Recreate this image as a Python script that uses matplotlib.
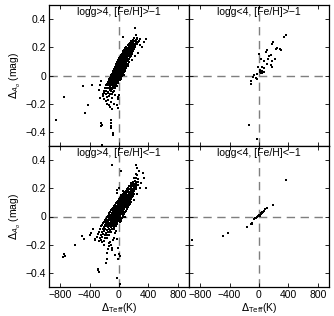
import matplotlib
matplotlib.use("Agg")
import matplotlib.pyplot as plt

plt.rcParams['font.family'] = ['Liberation Sans', 'DejaVu Sans']

# (dTeff [K], dA0 [mag]) pairs, one list per panel
TL_POINTS = [
    (-215, -0.147), (-168, -0.152), (-131, -0.146),
    (-205, -0.127), (-176, -0.132), (-148, -0.126), (-119, -0.134), (-97, -0.129),
    (-198, -0.113), (-170, -0.108), (-151, -0.114), (-128, -0.106), (-109, -0.111), (-88, -0.115), (-72, -0.108),
    (-186, -0.087), (-157, -0.092), (-139, -0.086), (-121, -0.094), (-104, -0.089), (-90, -0.093), (-77, -0.088), (-58, -0.091),
    (-172, -0.065), (-149, -0.070), (-128, -0.075), (-113, -0.068), (-99, -0.067), (-86, -0.072), (-71, -0.066), (-59, -0.074), (-44, -0.069), (-28, -0.073),
    (-158, -0.063), (-137, -0.058), (-119, -0.062), (-104, -0.056), (-92, -0.061), (-79, -0.065), (-66, -0.058), (-52, -0.062), (-37, -0.057),
    (-150, -0.047), (-127, -0.052), (-111, -0.046), (-96, -0.054), (-84, -0.049), (-71, -0.053), (-60, -0.048), (-47, -0.051), (-33, -0.045), (-18, -0.050),
    (-139, -0.037), (-117, -0.042), (-101, -0.036), (-89, -0.044), (-76, -0.039), (-64, -0.043), (-52, -0.038), (-40, -0.041), (-27, -0.035), (-11, -0.040),
    (-131, -0.027), (-109, -0.032), (-93, -0.026), (-80, -0.034), (-67, -0.029), (-55, -0.033), (-44, -0.028), (-31, -0.031), (-19, -0.025), (-3, -0.030), (14, -0.035),
    (-120, -0.017), (-99, -0.022), (-84, -0.016), (-71, -0.024), (-59, -0.019), (-47, -0.023), (-35, -0.018), (-23, -0.021), (-10, -0.015), (5, -0.020), (21, -0.025),
    (-112, -0.007), (-90, -0.012), (-75, -0.006), (-62, -0.014), (-50, -0.009), (-38, -0.013), (-27, -0.008), (-15, -0.011), (-2, -0.005), (12, -0.010), (30, -0.015),
    (-104, 0.003), (-83, -0.002), (-66, 0.004), (-53, -0.004), (-41, 0.001), (-30, -0.003), (-19, 0.002), (-7, -0.001), (5, 0.005), (19, 0.000), (38, -0.005), (62, 0.002),
    (-93, 0.013), (-74, 0.008), (-58, 0.014), (-45, 0.006), (-33, 0.011), (-22, 0.007), (-11, 0.012), (1, 0.009), (13, 0.015), (27, 0.010), (46, 0.005),
    (-86, 0.023), (-66, 0.018), (-50, 0.024), (-37, 0.016), (-25, 0.021), (-14, 0.017), (-3, 0.022), (9, 0.019), (22, 0.025), (36, 0.020), (55, 0.015),
    (-77, 0.033), (-58, 0.028), (-42, 0.034), (-29, 0.026), (-17, 0.031), (-6, 0.027), (5, 0.032), (17, 0.029), (30, 0.035), (45, 0.030), (64, 0.025),
    (-69, 0.043), (-49, 0.038), (-34, 0.044), (-21, 0.036), (-9, 0.041), (2, 0.037), (13, 0.042), (25, 0.039), (38, 0.045), (53, 0.040), (73, 0.035),
    (-60, 0.053), (-41, 0.048), (-26, 0.054), (-13, 0.046), (-1, 0.051), (10, 0.047), (21, 0.052), (33, 0.049), (47, 0.055), (62, 0.050), (82, 0.045),
    (-52, 0.063), (-33, 0.058), (-18, 0.064), (-5, 0.056), (7, 0.061), (18, 0.057), (29, 0.062), (41, 0.059), (55, 0.065), (71, 0.060), (91, 0.055),
    (-44, 0.073), (-25, 0.068), (-10, 0.074), (3, 0.066), (15, 0.071), (26, 0.067), (38, 0.072), (50, 0.069), (64, 0.075), (80, 0.070), (99, 0.065),
    (-35, 0.083), (-16, 0.078), (-1, 0.084), (12, 0.076), (24, 0.081), (35, 0.077), (47, 0.082), (59, 0.079), (73, 0.085), (89, 0.080), (110, 0.075),
    (-27, 0.093), (-8, 0.088), (7, 0.094), (20, 0.086), (32, 0.091), (44, 0.087), (56, 0.092), (68, 0.089), (82, 0.095), (98, 0.090), (120, 0.085),
    (-18, 0.103), (1, 0.098), (16, 0.104), (29, 0.096), (41, 0.101), (53, 0.097), (65, 0.102), (77, 0.099), (91, 0.105), (108, 0.100), (131, 0.095),
    (-8, 0.113), (11, 0.108), (26, 0.114), (39, 0.106), (51, 0.111), (63, 0.107), (75, 0.112), (88, 0.109), (102, 0.115), (119, 0.110),
    (2, 0.123), (21, 0.118), (36, 0.124), (49, 0.116), (61, 0.121), (73, 0.117), (86, 0.122), (99, 0.119), (113, 0.125), (131, 0.120),
    (13, 0.133), (32, 0.128), (47, 0.134), (60, 0.126), (72, 0.131), (85, 0.127), (98, 0.132), (111, 0.129), (126, 0.135), (145, 0.130),
    (24, 0.143), (43, 0.138), (58, 0.144), (71, 0.136), (84, 0.141), (97, 0.137), (110, 0.142), (124, 0.139), (140, 0.145), (160, 0.140),
    (36, 0.153), (55, 0.148), (70, 0.154), (83, 0.146), (96, 0.151), (109, 0.147), (123, 0.152), (138, 0.149), (155, 0.155), (176, 0.150),
    (48, 0.163), (67, 0.158), (82, 0.164), (96, 0.156), (109, 0.161), (123, 0.157), (137, 0.162), (152, 0.159), (170, 0.165),
    (61, 0.173), (80, 0.168), (95, 0.174), (109, 0.166), (123, 0.171), (137, 0.167), (151, 0.172), (167, 0.169), (186, 0.175),
    (74, 0.183), (93, 0.178), (109, 0.184), (123, 0.176), (137, 0.181), (151, 0.177), (166, 0.182), (183, 0.179), (204, 0.185),
    (88, 0.193), (107, 0.188), (123, 0.194), (138, 0.186), (152, 0.191), (167, 0.187), (183, 0.192), (201, 0.189),
    (101, 0.203), (121, 0.198), (137, 0.204), (152, 0.196), (167, 0.201), (183, 0.197), (200, 0.202), (221, 0.199),
    (116, 0.213), (136, 0.208), (152, 0.214), (168, 0.206), (184, 0.211), (201, 0.207), (220, 0.212),
    (131, 0.223), (151, 0.218), (168, 0.224), (185, 0.216), (202, 0.221), (221, 0.217), (243, 0.222),
    (148, 0.233), (168, 0.228), (186, 0.234), (204, 0.226), (224, 0.231), (249, 0.227),
    (165, 0.243), (186, 0.238), (206, 0.244), (228, 0.236), (256, 0.241),
    (184, 0.253), (207, 0.248), (232, 0.254), (265, 0.246),
    (205, 0.263), (238, 0.258), (280, 0.262),
    (217, 0.334), (54, 0.27), (235, 0.287), (249, 0.263), (371, 0.256), (339, 0.235),
    (290, 0.215), (310, 0.2), (260, 0.16), (220, 0.14), (170, 0.11), (120, 0.07), (80, 0.03),
    (-484, -0.076), (-371, -0.069), (-746, -0.156), (-850, -0.318), (-461, -0.263), (-416, -0.206),
    (-249, -0.04), (-262, -0.069), (-271, -0.104), (-262, -0.16), (-220, -0.13), (-200, -0.165),
    (-180, -0.18), (-160, -0.2), (-140, -0.21), (-120, -0.225), (-100, -0.24), (-150, -0.175),
    (-110, -0.19), (-90, -0.16), (-249, -0.334), (-235, -0.348), (-240, -0.36), (-113, -0.318),
    (-110, -0.34), (-108, -0.355), (-105, -0.37), (-81, -0.41), (-78, -0.42), (-226, -0.49),
    (-23, -0.206), (-20, -0.23), (-10, -0.15), (0, -0.135), (-15, -0.17), (-60, -0.14), (-70, -0.2),
]

TR_POINTS = [
    (362, 0.29), (339, 0.275), (194, 0.24), (181, 0.22), (280, 0.19), (235, 0.185),
    (113, 0.18), (90, 0.17), (158, 0.145), (140, 0.14), (217, 0.12), (181, 0.10),
    (68, 0.10), (104, 0.085), (0, 0.155), (23, 0.12), (45, 0.06), (158, 0.073),
    (172, 0.06), (-9, 0.06), (9, 0.04), (45, 0.03), (68, 0.026), (27, 0.019),
    (-23, 0.014), (-68, 0.002), (-77, -0.01), (-45, -0.017), (-23, -0.026),
    (-113, -0.04), (-113, -0.06), (-131, -0.353), (-23, -0.45), (249, 0.197),
    (294, 0.18), (122, 0.12), (68, 0.05), (30, 0.03), (15, 0.025), (40, 0.02),
]

BL_POINTS = [
    (-320, -0.167), (-275, -0.172), (-240, -0.166), (-205, -0.174),
    (-305, -0.147), (-262, -0.152), (-228, -0.146), (-196, -0.154), (-168, -0.149),
    (-290, -0.127), (-250, -0.132), (-218, -0.126), (-190, -0.134), (-163, -0.129), (-137, -0.133),
    (-276, -0.107), (-236, -0.112), (-205, -0.106), (-178, -0.114), (-153, -0.109), (-129, -0.113), (-104, -0.108),
    (-262, -0.087), (-222, -0.092), (-192, -0.086), (-166, -0.094), (-142, -0.089), (-119, -0.093), (-96, -0.088), (-70, -0.091),
    (-248, -0.067), (-208, -0.072), (-180, -0.066), (-155, -0.074), (-132, -0.069), (-110, -0.073), (-88, -0.068), (-64, -0.071), (-38, -0.065),
    (-231, -0.057), (-194, -0.062), (-168, -0.056), (-144, -0.064), (-122, -0.059), (-101, -0.063), (-80, -0.058), (-57, -0.061), (-31, -0.055),
    (-220, -0.047), (-183, -0.052), (-157, -0.046), (-134, -0.054), (-113, -0.049), (-92, -0.053), (-71, -0.048), (-49, -0.051), (-22, -0.045),
    (-206, -0.037), (-170, -0.042), (-146, -0.036), (-124, -0.044), (-103, -0.039), (-83, -0.043), (-62, -0.038), (-40, -0.041), (-14, -0.035), (15, -0.040),
    (-194, -0.027), (-160, -0.032), (-136, -0.026), (-114, -0.034), (-94, -0.029), (-74, -0.033), (-53, -0.028), (-31, -0.031), (-5, -0.025), (24, -0.030),
    (-181, -0.017), (-148, -0.022), (-125, -0.016), (-104, -0.024), (-84, -0.019), (-64, -0.023), (-44, -0.018), (-22, -0.021), (3, -0.015), (33, -0.020),
    (-168, -0.007), (-136, -0.012), (-114, -0.006), (-94, -0.014), (-74, -0.009), (-55, -0.013), (-35, -0.008), (-13, -0.011), (12, -0.005), (42, -0.010),
    (-156, 0.003), (-124, -0.002), (-103, 0.004), (-83, -0.004), (-64, 0.001), (-45, -0.003), (-26, 0.002), (-4, -0.001), (20, 0.005), (50, 0.000), (85, -0.004),
    (-142, 0.013), (-112, 0.008), (-92, 0.014), (-73, 0.006), (-54, 0.011), (-35, 0.007), (-16, 0.012), (5, 0.009), (29, 0.015), (60, 0.010),
    (-130, 0.023), (-101, 0.018), (-81, 0.024), (-62, 0.016), (-44, 0.021), (-25, 0.017), (-6, 0.022), (15, 0.019), (39, 0.025), (70, 0.020),
    (-117, 0.033), (-89, 0.028), (-70, 0.034), (-52, 0.026), (-34, 0.031), (-15, 0.027), (4, 0.032), (25, 0.029), (49, 0.035), (80, 0.030),
    (-104, 0.043), (-77, 0.038), (-58, 0.044), (-41, 0.036), (-23, 0.041), (-5, 0.037), (14, 0.042), (35, 0.039), (59, 0.045), (90, 0.040),
    (-92, 0.053), (-65, 0.048), (-47, 0.054), (-30, 0.046), (-12, 0.051), (6, 0.047), (25, 0.052), (46, 0.049), (70, 0.055), (102, 0.050),
    (-79, 0.063), (-53, 0.058), (-36, 0.064), (-19, 0.056), (-1, 0.061), (17, 0.057), (36, 0.062), (57, 0.059), (81, 0.065), (114, 0.060),
    (-66, 0.073), (-41, 0.068), (-24, 0.074), (-7, 0.066), (10, 0.071), (28, 0.067), (47, 0.072), (68, 0.069), (92, 0.075), (126, 0.070),
    (-53, 0.083), (-29, 0.078), (-12, 0.084), (5, 0.076), (22, 0.081), (40, 0.077), (59, 0.082), (80, 0.079), (105, 0.085), (140, 0.080),
    (-40, 0.093), (-17, 0.088), (0, 0.094), (17, 0.086), (34, 0.091), (52, 0.087), (71, 0.092), (92, 0.089), (118, 0.095), (152, 0.090),
    (-27, 0.103), (-5, 0.098), (12, 0.104), (29, 0.096), (46, 0.101), (64, 0.097), (83, 0.102), (105, 0.099), (131, 0.105), (166, 0.100),
    (-13, 0.113), (8, 0.108), (25, 0.114), (42, 0.106), (59, 0.111), (77, 0.107), (96, 0.112), (118, 0.109), (145, 0.115),
    (0, 0.123), (21, 0.118), (38, 0.124), (55, 0.116), (72, 0.121), (90, 0.117), (110, 0.122), (132, 0.119), (160, 0.125),
    (14, 0.133), (35, 0.128), (52, 0.134), (69, 0.126), (86, 0.131), (104, 0.127), (124, 0.132), (147, 0.129), (176, 0.135),
    (28, 0.143), (49, 0.138), (66, 0.144), (83, 0.136), (100, 0.141), (118, 0.137), (139, 0.142), (163, 0.139), (193, 0.145),
    (43, 0.153), (64, 0.148), (81, 0.154), (98, 0.146), (115, 0.151), (133, 0.147), (154, 0.152), (179, 0.149),
    (58, 0.163), (79, 0.158), (96, 0.164), (113, 0.156), (131, 0.161), (150, 0.157), (171, 0.162), (197, 0.159),
    (73, 0.173), (94, 0.168), (112, 0.174), (129, 0.166), (147, 0.171), (167, 0.167), (189, 0.172),
    (89, 0.183), (110, 0.178), (128, 0.184), (146, 0.176), (165, 0.181), (186, 0.177), (210, 0.182),
    (105, 0.193), (127, 0.188), (145, 0.194), (164, 0.186), (184, 0.191), (207, 0.187),
    (122, 0.203), (144, 0.198), (163, 0.204), (183, 0.196), (205, 0.201), (231, 0.197),
    (139, 0.213), (162, 0.208), (182, 0.214), (203, 0.206), (228, 0.211),
    (157, 0.223), (181, 0.218), (203, 0.224), (227, 0.216),
    (176, 0.233), (201, 0.228), (226, 0.234), (255, 0.226),
    (196, 0.243), (224, 0.238), (252, 0.244),
    (218, 0.253), (250, 0.248), (228, 0.273), (262, 0.268), (245, 0.293),
    (-99, 0.363), (23, 0.322), (235, 0.363), (249, 0.346), (271, 0.322), (225, 0.3),
    (203, 0.275), (339, 0.275), (362, 0.204), (158, 0.24), (-32, 0.19), (-25, 0.17),
    (0, 0.2), (30, 0.15), (60, 0.18), (300, 0.24), (280, 0.2), (250, 0.16), (200, 0.12),
    (320, 0.31), (-497, -0.14), (-470, -0.16), (-400, -0.13), (-350, -0.09), (-380, -0.12),
    (-746, -0.263), (-733, -0.28), (-760, -0.29), (-280, -0.38), (-265, -0.395), (-290, -0.37),
    (-23, -0.436), (14, -0.476), (0, -0.263), (10, -0.28), (-158, -0.26), (-160, -0.3),
    (-150, -0.23), (-140, -0.21), (-130, -0.19), (-120, -0.18), (-110, -0.2), (-100, -0.22),
    (-90, -0.24), (-80, -0.17), (-70, -0.15), (-55, -0.12), (-40, -0.1), (-30, -0.16),
    (-20, -0.22), (-10, -0.3), (-60, -0.27), (-180, -0.33), (-200, -0.2), (-230, -0.18),
    (-320, -0.16), (-600, -0.2),
]

BR_POINTS = [
    (362, 0.26), (190, 0.08), (104, 0.06), (81, 0.05), (54, 0.033), (36, 0.026),
    (23, 0.019), (0, 0.01), (-14, 0.002), (-32, -0.005), (-50, -0.014), (-68, -0.021),
    (-99, -0.05), (-109, -0.055), (-167, -0.076), (-420, -0.12), (-493, -0.135),
    (-913, -0.17), (18, 0.014), (45, 0.03), (65, 0.04), (8, 0.006), (-40, -0.01),
    (-95, -0.045), (30, 0.022), (-5, 0.005),
]

PANEL_TITLES = ['logg>4, [Fe/H]>\u22121', 'logg<4, [Fe/H]>\u22121',
                'logg>4, [Fe/H]<\u22121', 'logg<4, [Fe/H]<\u22121']
X_TICKS = [-800, -400, 0, 400, 800]
Y_TICKS = [-0.4, -0.2, 0, 0.2, 0.4]
Y_TICK_LABELS = ['\u22120.4', '\u22120.2', '0', '0.2', '0.4']
X_TICK_LABELS = ['\u2212800', '\u2212400', '0', '400', '800']

fig = plt.figure(figsize=(3.34, 3.16), dpi=100)
W, H = 334, 316
boxes = [(49, 5), (189, 5), (49, 146), (189, 146)]
panels = [TL_POINTS, TR_POINTS, BL_POINTS, BR_POINTS]

for i, ((px, py), pts) in enumerate(zip(boxes, panels)):
    ax = fig.add_axes([px / W, 1 - (py + 141) / H, 140 / W, 141 / H])
    xs = [p[0] for p in pts]
    ys = [p[1] for p in pts]
    ax.axhline(0, color='#7f7f7f', lw=1, ls=(0, (6, 4)), zorder=1)
    ax.axvline(0, color='#7f7f7f', lw=1, ls=(0, (6, 4)), zorder=1)
    ax.plot(xs, ys, ls='none', marker='s', ms=1.7, mew=0, color='black', zorder=2)
    ax.set_xlim(-950, 950)
    ax.set_ylim(-0.5, 0.5)
    ax.set_xticks(X_TICKS)
    ax.set_yticks(Y_TICKS)
    ax.tick_params(direction='in', top=True, right=True, length=3, width=0.6,
                   labelsize=7.5, pad=2)
    for s in ax.spines.values():
        s.set_linewidth(0.9)
    ax.text(0.5, 0.985, PANEL_TITLES[i], transform=ax.transAxes, ha='center',
            va='top', fontsize=7.5)
    if i % 2 == 0:
        ax.set_yticklabels(Y_TICK_LABELS)
        ax.set_ylabel(r'$\Delta_{A_o}$ (mag)', fontsize=7.5, labelpad=2)
    else:
        ax.set_yticklabels([])
    if i >= 2:
        ax.set_xticklabels(X_TICK_LABELS)
        ax.set_xlabel(r'$\Delta_{\rm Teff}$(K)', fontsize=7.5, labelpad=1)
    else:
        ax.set_xticklabels([])

fig.savefig('out.png', dpi=100)
